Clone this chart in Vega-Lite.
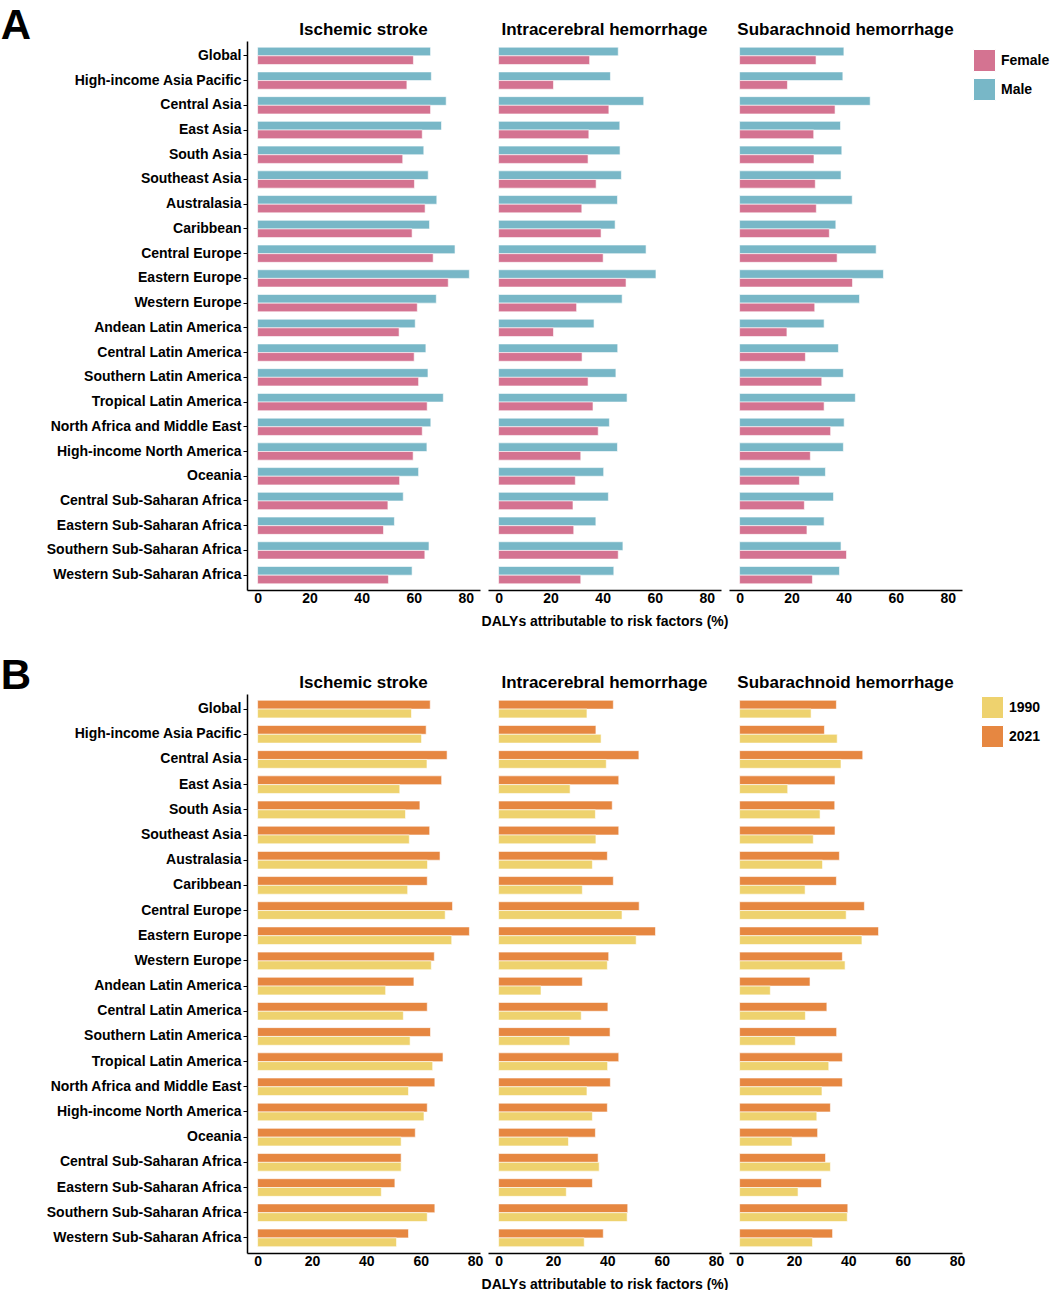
{
"$schema":"https://vega.github.io/schema/vega-lite/v6.json",
"background":"white",
"padding":{"left":0,"top":5,"right":0,"bottom":0},
"config":{"font":"Liberation Sans","view":{"stroke":null},
 "axis":{"grid":false,"labelFont":"Liberation Sans","labelFontSize":14,"labelFontWeight":"bold","labelColor":"black","titleFont":"Liberation Sans","titleFontSize":14,"titleFontWeight":"bold","titleColor":"black","domainColor":"black","domainWidth":1.3,"tickColor":"black"},
 "legend":{"labelFont":"Liberation Sans","labelFontSize":14,"labelFontWeight":"bold","labelColor":"black"}},
"datasets":{
"sex":[
{"region":"Global","cause":"Ischemic stroke","group":"Male","value":66.5},{"region":"Global","cause":"Ischemic stroke","group":"Female","value":59.9},
{"region":"High-income Asia Pacific","cause":"Ischemic stroke","group":"Male","value":66.8},{"region":"High-income Asia Pacific","cause":"Ischemic stroke","group":"Female","value":57.4},
{"region":"Central Asia","cause":"Ischemic stroke","group":"Male","value":72.5},{"region":"Central Asia","cause":"Ischemic stroke","group":"Female","value":66.5},
{"region":"East Asia","cause":"Ischemic stroke","group":"Male","value":70.7},{"region":"East Asia","cause":"Ischemic stroke","group":"Female","value":63.3},
{"region":"South Asia","cause":"Ischemic stroke","group":"Male","value":63.9},{"region":"South Asia","cause":"Ischemic stroke","group":"Female","value":55.8},
{"region":"Southeast Asia","cause":"Ischemic stroke","group":"Male","value":65.6},{"region":"Southeast Asia","cause":"Ischemic stroke","group":"Female","value":60.3},
{"region":"Australasia","cause":"Ischemic stroke","group":"Male","value":68.9},{"region":"Australasia","cause":"Ischemic stroke","group":"Female","value":64.4},
{"region":"Caribbean","cause":"Ischemic stroke","group":"Male","value":66.1},{"region":"Caribbean","cause":"Ischemic stroke","group":"Female","value":59.4},
{"region":"Central Europe","cause":"Ischemic stroke","group":"Male","value":75.9},{"region":"Central Europe","cause":"Ischemic stroke","group":"Female","value":67.5},
{"region":"Eastern Europe","cause":"Ischemic stroke","group":"Male","value":81.4},{"region":"Eastern Europe","cause":"Ischemic stroke","group":"Female","value":73.3},
{"region":"Western Europe","cause":"Ischemic stroke","group":"Male","value":68.7},{"region":"Western Europe","cause":"Ischemic stroke","group":"Female","value":61.4},
{"region":"Andean Latin America","cause":"Ischemic stroke","group":"Male","value":60.6},{"region":"Andean Latin America","cause":"Ischemic stroke","group":"Female","value":54.4},
{"region":"Central Latin America","cause":"Ischemic stroke","group":"Male","value":64.7},{"region":"Central Latin America","cause":"Ischemic stroke","group":"Female","value":60.2},
{"region":"Southern Latin America","cause":"Ischemic stroke","group":"Male","value":65.5},{"region":"Southern Latin America","cause":"Ischemic stroke","group":"Female","value":61.9},
{"region":"Tropical Latin America","cause":"Ischemic stroke","group":"Male","value":71.4},{"region":"Tropical Latin America","cause":"Ischemic stroke","group":"Female","value":65.2},
{"region":"North Africa and Middle East","cause":"Ischemic stroke","group":"Male","value":66.6},{"region":"North Africa and Middle East","cause":"Ischemic stroke","group":"Female","value":63.3},
{"region":"High-income North America","cause":"Ischemic stroke","group":"Male","value":65.1},{"region":"High-income North America","cause":"Ischemic stroke","group":"Female","value":59.8},
{"region":"Oceania","cause":"Ischemic stroke","group":"Male","value":61.9},{"region":"Oceania","cause":"Ischemic stroke","group":"Female","value":54.6},
{"region":"Central Sub-Saharan Africa","cause":"Ischemic stroke","group":"Male","value":56.0},{"region":"Central Sub-Saharan Africa","cause":"Ischemic stroke","group":"Female","value":50.1},
{"region":"Eastern Sub-Saharan Africa","cause":"Ischemic stroke","group":"Male","value":52.6},{"region":"Eastern Sub-Saharan Africa","cause":"Ischemic stroke","group":"Female","value":48.4},
{"region":"Southern Sub-Saharan Africa","cause":"Ischemic stroke","group":"Male","value":65.9},{"region":"Southern Sub-Saharan Africa","cause":"Ischemic stroke","group":"Female","value":64.3},
{"region":"Western Sub-Saharan Africa","cause":"Ischemic stroke","group":"Male","value":59.4},{"region":"Western Sub-Saharan Africa","cause":"Ischemic stroke","group":"Female","value":50.3},
{"region":"Global","cause":"Intracerebral hemorrhage","group":"Male","value":46.0},{"region":"Global","cause":"Intracerebral hemorrhage","group":"Female","value":35.0},
{"region":"High-income Asia Pacific","cause":"Intracerebral hemorrhage","group":"Male","value":43.0},{"region":"High-income Asia Pacific","cause":"Intracerebral hemorrhage","group":"Female","value":21.1},
{"region":"Central Asia","cause":"Intracerebral hemorrhage","group":"Male","value":55.8},{"region":"Central Asia","cause":"Intracerebral hemorrhage","group":"Female","value":42.4},
{"region":"East Asia","cause":"Intracerebral hemorrhage","group":"Male","value":46.6},{"region":"East Asia","cause":"Intracerebral hemorrhage","group":"Female","value":34.7},
{"region":"South Asia","cause":"Intracerebral hemorrhage","group":"Male","value":46.7},{"region":"South Asia","cause":"Intracerebral hemorrhage","group":"Female","value":34.4},
{"region":"Southeast Asia","cause":"Intracerebral hemorrhage","group":"Male","value":47.2},{"region":"Southeast Asia","cause":"Intracerebral hemorrhage","group":"Female","value":37.5},
{"region":"Australasia","cause":"Intracerebral hemorrhage","group":"Male","value":45.7},{"region":"Australasia","cause":"Intracerebral hemorrhage","group":"Female","value":32.0},
{"region":"Caribbean","cause":"Intracerebral hemorrhage","group":"Male","value":44.8},{"region":"Caribbean","cause":"Intracerebral hemorrhage","group":"Female","value":39.4},
{"region":"Central Europe","cause":"Intracerebral hemorrhage","group":"Male","value":56.7},{"region":"Central Europe","cause":"Intracerebral hemorrhage","group":"Female","value":40.2},
{"region":"Eastern Europe","cause":"Intracerebral hemorrhage","group":"Male","value":60.5},{"region":"Eastern Europe","cause":"Intracerebral hemorrhage","group":"Female","value":49.0},
{"region":"Western Europe","cause":"Intracerebral hemorrhage","group":"Male","value":47.5},{"region":"Western Europe","cause":"Intracerebral hemorrhage","group":"Female","value":30.0},
{"region":"Andean Latin America","cause":"Intracerebral hemorrhage","group":"Male","value":36.7},{"region":"Andean Latin America","cause":"Intracerebral hemorrhage","group":"Female","value":21.1},
{"region":"Central Latin America","cause":"Intracerebral hemorrhage","group":"Male","value":45.8},{"region":"Central Latin America","cause":"Intracerebral hemorrhage","group":"Female","value":32.1},
{"region":"Southern Latin America","cause":"Intracerebral hemorrhage","group":"Male","value":45.1},{"region":"Southern Latin America","cause":"Intracerebral hemorrhage","group":"Female","value":34.4},
{"region":"Tropical Latin America","cause":"Intracerebral hemorrhage","group":"Male","value":49.4},{"region":"Tropical Latin America","cause":"Intracerebral hemorrhage","group":"Female","value":36.3},
{"region":"North Africa and Middle East","cause":"Intracerebral hemorrhage","group":"Male","value":42.6},{"region":"North Africa and Middle East","cause":"Intracerebral hemorrhage","group":"Female","value":38.3},
{"region":"High-income North America","cause":"Intracerebral hemorrhage","group":"Male","value":45.7},{"region":"High-income North America","cause":"Intracerebral hemorrhage","group":"Female","value":31.6},
{"region":"Oceania","cause":"Intracerebral hemorrhage","group":"Male","value":40.4},{"region":"Oceania","cause":"Intracerebral hemorrhage","group":"Female","value":29.5},
{"region":"Central Sub-Saharan Africa","cause":"Intracerebral hemorrhage","group":"Male","value":42.2},{"region":"Central Sub-Saharan Africa","cause":"Intracerebral hemorrhage","group":"Female","value":28.6},
{"region":"Eastern Sub-Saharan Africa","cause":"Intracerebral hemorrhage","group":"Male","value":37.4},{"region":"Eastern Sub-Saharan Africa","cause":"Intracerebral hemorrhage","group":"Female","value":28.9},
{"region":"Southern Sub-Saharan Africa","cause":"Intracerebral hemorrhage","group":"Male","value":47.8},{"region":"Southern Sub-Saharan Africa","cause":"Intracerebral hemorrhage","group":"Female","value":46.0},
{"region":"Western Sub-Saharan Africa","cause":"Intracerebral hemorrhage","group":"Male","value":44.3},{"region":"Western Sub-Saharan Africa","cause":"Intracerebral hemorrhage","group":"Female","value":31.6},
{"region":"Global","cause":"Subarachnoid hemorrhage","group":"Male","value":40.1},{"region":"Global","cause":"Subarachnoid hemorrhage","group":"Female","value":29.4},
{"region":"High-income Asia Pacific","cause":"Subarachnoid hemorrhage","group":"Male","value":39.7},{"region":"High-income Asia Pacific","cause":"Subarachnoid hemorrhage","group":"Female","value":18.4},
{"region":"Central Asia","cause":"Subarachnoid hemorrhage","group":"Male","value":50.2},{"region":"Central Asia","cause":"Subarachnoid hemorrhage","group":"Female","value":36.7},
{"region":"East Asia","cause":"Subarachnoid hemorrhage","group":"Male","value":38.8},{"region":"East Asia","cause":"Subarachnoid hemorrhage","group":"Female","value":28.5},
{"region":"South Asia","cause":"Subarachnoid hemorrhage","group":"Male","value":39.3},{"region":"South Asia","cause":"Subarachnoid hemorrhage","group":"Female","value":28.6},
{"region":"Southeast Asia","cause":"Subarachnoid hemorrhage","group":"Male","value":39.0},{"region":"Southeast Asia","cause":"Subarachnoid hemorrhage","group":"Female","value":29.1},
{"region":"Australasia","cause":"Subarachnoid hemorrhage","group":"Male","value":43.3},{"region":"Australasia","cause":"Subarachnoid hemorrhage","group":"Female","value":29.5},
{"region":"Caribbean","cause":"Subarachnoid hemorrhage","group":"Male","value":37.0},{"region":"Caribbean","cause":"Subarachnoid hemorrhage","group":"Female","value":34.5},
{"region":"Central Europe","cause":"Subarachnoid hemorrhage","group":"Male","value":52.5},{"region":"Central Europe","cause":"Subarachnoid hemorrhage","group":"Female","value":37.5},
{"region":"Eastern Europe","cause":"Subarachnoid hemorrhage","group":"Male","value":55.3},{"region":"Eastern Europe","cause":"Subarachnoid hemorrhage","group":"Female","value":43.4},
{"region":"Western Europe","cause":"Subarachnoid hemorrhage","group":"Male","value":46.1},{"region":"Western Europe","cause":"Subarachnoid hemorrhage","group":"Female","value":28.9},
{"region":"Andean Latin America","cause":"Subarachnoid hemorrhage","group":"Male","value":32.5},{"region":"Andean Latin America","cause":"Subarachnoid hemorrhage","group":"Female","value":18.2},
{"region":"Central Latin America","cause":"Subarachnoid hemorrhage","group":"Male","value":38.0},{"region":"Central Latin America","cause":"Subarachnoid hemorrhage","group":"Female","value":25.3},
{"region":"Southern Latin America","cause":"Subarachnoid hemorrhage","group":"Male","value":39.9},{"region":"Southern Latin America","cause":"Subarachnoid hemorrhage","group":"Female","value":31.6},
{"region":"Tropical Latin America","cause":"Subarachnoid hemorrhage","group":"Male","value":44.5},{"region":"Tropical Latin America","cause":"Subarachnoid hemorrhage","group":"Female","value":32.5},
{"region":"North Africa and Middle East","cause":"Subarachnoid hemorrhage","group":"Male","value":40.2},{"region":"North Africa and Middle East","cause":"Subarachnoid hemorrhage","group":"Female","value":35.0},
{"region":"High-income North America","cause":"Subarachnoid hemorrhage","group":"Male","value":39.9},{"region":"High-income North America","cause":"Subarachnoid hemorrhage","group":"Female","value":27.2},
{"region":"Oceania","cause":"Subarachnoid hemorrhage","group":"Male","value":33.0},{"region":"Oceania","cause":"Subarachnoid hemorrhage","group":"Female","value":23.0},
{"region":"Central Sub-Saharan Africa","cause":"Subarachnoid hemorrhage","group":"Male","value":36.1},{"region":"Central Sub-Saharan Africa","cause":"Subarachnoid hemorrhage","group":"Female","value":24.9},
{"region":"Eastern Sub-Saharan Africa","cause":"Subarachnoid hemorrhage","group":"Male","value":32.5},{"region":"Eastern Sub-Saharan Africa","cause":"Subarachnoid hemorrhage","group":"Female","value":25.9},
{"region":"Southern Sub-Saharan Africa","cause":"Subarachnoid hemorrhage","group":"Male","value":39.0},{"region":"Southern Sub-Saharan Africa","cause":"Subarachnoid hemorrhage","group":"Female","value":41.1},
{"region":"Western Sub-Saharan Africa","cause":"Subarachnoid hemorrhage","group":"Male","value":38.4},{"region":"Western Sub-Saharan Africa","cause":"Subarachnoid hemorrhage","group":"Female","value":28.0}
],
"year":[
{"region":"Global","cause":"Ischemic stroke","group":"2021","value":63.5},{"region":"Global","cause":"Ischemic stroke","group":"1990","value":56.6},
{"region":"High-income Asia Pacific","cause":"Ischemic stroke","group":"2021","value":62.0},{"region":"High-income Asia Pacific","cause":"Ischemic stroke","group":"1990","value":60.3},
{"region":"Central Asia","cause":"Ischemic stroke","group":"2021","value":69.7},{"region":"Central Asia","cause":"Ischemic stroke","group":"1990","value":62.3},
{"region":"East Asia","cause":"Ischemic stroke","group":"2021","value":67.7},{"region":"East Asia","cause":"Ischemic stroke","group":"1990","value":52.3},
{"region":"South Asia","cause":"Ischemic stroke","group":"2021","value":59.7},{"region":"South Asia","cause":"Ischemic stroke","group":"1990","value":54.4},
{"region":"Southeast Asia","cause":"Ischemic stroke","group":"2021","value":63.3},{"region":"Southeast Asia","cause":"Ischemic stroke","group":"1990","value":55.8},
{"region":"Australasia","cause":"Ischemic stroke","group":"2021","value":67.1},{"region":"Australasia","cause":"Ischemic stroke","group":"1990","value":62.5},
{"region":"Caribbean","cause":"Ischemic stroke","group":"2021","value":62.4},{"region":"Caribbean","cause":"Ischemic stroke","group":"1990","value":55.2},
{"region":"Central Europe","cause":"Ischemic stroke","group":"2021","value":71.7},{"region":"Central Europe","cause":"Ischemic stroke","group":"1990","value":69.0},
{"region":"Eastern Europe","cause":"Ischemic stroke","group":"2021","value":77.9},{"region":"Eastern Europe","cause":"Ischemic stroke","group":"1990","value":71.4},
{"region":"Western Europe","cause":"Ischemic stroke","group":"2021","value":65.0},{"region":"Western Europe","cause":"Ischemic stroke","group":"1990","value":63.9},
{"region":"Andean Latin America","cause":"Ischemic stroke","group":"2021","value":57.5},{"region":"Andean Latin America","cause":"Ischemic stroke","group":"1990","value":47.1},
{"region":"Central Latin America","cause":"Ischemic stroke","group":"2021","value":62.4},{"region":"Central Latin America","cause":"Ischemic stroke","group":"1990","value":53.6},
{"region":"Southern Latin America","cause":"Ischemic stroke","group":"2021","value":63.6},{"region":"Southern Latin America","cause":"Ischemic stroke","group":"1990","value":56.1},
{"region":"Tropical Latin America","cause":"Ischemic stroke","group":"2021","value":68.2},{"region":"Tropical Latin America","cause":"Ischemic stroke","group":"1990","value":64.4},
{"region":"North Africa and Middle East","cause":"Ischemic stroke","group":"2021","value":65.2},{"region":"North Africa and Middle East","cause":"Ischemic stroke","group":"1990","value":55.5},
{"region":"High-income North America","cause":"Ischemic stroke","group":"2021","value":62.4},{"region":"High-income North America","cause":"Ischemic stroke","group":"1990","value":61.2},
{"region":"Oceania","cause":"Ischemic stroke","group":"2021","value":58.0},{"region":"Oceania","cause":"Ischemic stroke","group":"1990","value":52.8},
{"region":"Central Sub-Saharan Africa","cause":"Ischemic stroke","group":"2021","value":52.8},{"region":"Central Sub-Saharan Africa","cause":"Ischemic stroke","group":"1990","value":52.8},
{"region":"Eastern Sub-Saharan Africa","cause":"Ischemic stroke","group":"2021","value":50.5},{"region":"Eastern Sub-Saharan Africa","cause":"Ischemic stroke","group":"1990","value":45.5},
{"region":"Southern Sub-Saharan Africa","cause":"Ischemic stroke","group":"2021","value":65.2},{"region":"Southern Sub-Saharan Africa","cause":"Ischemic stroke","group":"1990","value":62.4},
{"region":"Western Sub-Saharan Africa","cause":"Ischemic stroke","group":"2021","value":55.5},{"region":"Western Sub-Saharan Africa","cause":"Ischemic stroke","group":"1990","value":51.1},
{"region":"Global","cause":"Intracerebral hemorrhage","group":"2021","value":42.2},{"region":"Global","cause":"Intracerebral hemorrhage","group":"1990","value":32.5},
{"region":"High-income Asia Pacific","cause":"Intracerebral hemorrhage","group":"2021","value":35.8},{"region":"High-income Asia Pacific","cause":"Intracerebral hemorrhage","group":"1990","value":37.7},
{"region":"Central Asia","cause":"Intracerebral hemorrhage","group":"2021","value":51.6},{"region":"Central Asia","cause":"Intracerebral hemorrhage","group":"1990","value":39.6},
{"region":"East Asia","cause":"Intracerebral hemorrhage","group":"2021","value":44.2},{"region":"East Asia","cause":"Intracerebral hemorrhage","group":"1990","value":26.3},
{"region":"South Asia","cause":"Intracerebral hemorrhage","group":"2021","value":41.8},{"region":"South Asia","cause":"Intracerebral hemorrhage","group":"1990","value":35.6},
{"region":"Southeast Asia","cause":"Intracerebral hemorrhage","group":"2021","value":44.2},{"region":"Southeast Asia","cause":"Intracerebral hemorrhage","group":"1990","value":35.8},
{"region":"Australasia","cause":"Intracerebral hemorrhage","group":"2021","value":40.0},{"region":"Australasia","cause":"Intracerebral hemorrhage","group":"1990","value":34.5},
{"region":"Caribbean","cause":"Intracerebral hemorrhage","group":"2021","value":42.2},{"region":"Caribbean","cause":"Intracerebral hemorrhage","group":"1990","value":30.8},
{"region":"Central Europe","cause":"Intracerebral hemorrhage","group":"2021","value":51.7},{"region":"Central Europe","cause":"Intracerebral hemorrhage","group":"1990","value":45.4},
{"region":"Eastern Europe","cause":"Intracerebral hemorrhage","group":"2021","value":57.7},{"region":"Eastern Europe","cause":"Intracerebral hemorrhage","group":"1990","value":50.6},
{"region":"Western Europe","cause":"Intracerebral hemorrhage","group":"2021","value":40.5},{"region":"Western Europe","cause":"Intracerebral hemorrhage","group":"1990","value":40.0},
{"region":"Andean Latin America","cause":"Intracerebral hemorrhage","group":"2021","value":30.8},{"region":"Andean Latin America","cause":"Intracerebral hemorrhage","group":"1990","value":15.6},
{"region":"Central Latin America","cause":"Intracerebral hemorrhage","group":"2021","value":40.2},{"region":"Central Latin America","cause":"Intracerebral hemorrhage","group":"1990","value":30.4},
{"region":"Southern Latin America","cause":"Intracerebral hemorrhage","group":"2021","value":41.0},{"region":"Southern Latin America","cause":"Intracerebral hemorrhage","group":"1990","value":26.2},
{"region":"Tropical Latin America","cause":"Intracerebral hemorrhage","group":"2021","value":44.2},{"region":"Tropical Latin America","cause":"Intracerebral hemorrhage","group":"1990","value":40.1},
{"region":"North Africa and Middle East","cause":"Intracerebral hemorrhage","group":"2021","value":41.1},{"region":"North Africa and Middle East","cause":"Intracerebral hemorrhage","group":"1990","value":32.5},
{"region":"High-income North America","cause":"Intracerebral hemorrhage","group":"2021","value":40.0},{"region":"High-income North America","cause":"Intracerebral hemorrhage","group":"1990","value":34.5},
{"region":"Oceania","cause":"Intracerebral hemorrhage","group":"2021","value":35.6},{"region":"Oceania","cause":"Intracerebral hemorrhage","group":"1990","value":25.7},
{"region":"Central Sub-Saharan Africa","cause":"Intracerebral hemorrhage","group":"2021","value":36.6},{"region":"Central Sub-Saharan Africa","cause":"Intracerebral hemorrhage","group":"1990","value":37.0},
{"region":"Eastern Sub-Saharan Africa","cause":"Intracerebral hemorrhage","group":"2021","value":34.5},{"region":"Eastern Sub-Saharan Africa","cause":"Intracerebral hemorrhage","group":"1990","value":24.9},
{"region":"Southern Sub-Saharan Africa","cause":"Intracerebral hemorrhage","group":"2021","value":47.5},{"region":"Southern Sub-Saharan Africa","cause":"Intracerebral hemorrhage","group":"1990","value":47.3},
{"region":"Western Sub-Saharan Africa","cause":"Intracerebral hemorrhage","group":"2021","value":38.5},{"region":"Western Sub-Saharan Africa","cause":"Intracerebral hemorrhage","group":"1990","value":31.5},
{"region":"Global","cause":"Subarachnoid hemorrhage","group":"2021","value":35.6},{"region":"Global","cause":"Subarachnoid hemorrhage","group":"1990","value":26.3},
{"region":"High-income Asia Pacific","cause":"Subarachnoid hemorrhage","group":"2021","value":31.2},{"region":"High-income Asia Pacific","cause":"Subarachnoid hemorrhage","group":"1990","value":35.9},
{"region":"Central Asia","cause":"Subarachnoid hemorrhage","group":"2021","value":45.3},{"region":"Central Asia","cause":"Subarachnoid hemorrhage","group":"1990","value":37.3},
{"region":"East Asia","cause":"Subarachnoid hemorrhage","group":"2021","value":35.1},{"region":"East Asia","cause":"Subarachnoid hemorrhage","group":"1990","value":17.7},
{"region":"South Asia","cause":"Subarachnoid hemorrhage","group":"2021","value":35.0},{"region":"South Asia","cause":"Subarachnoid hemorrhage","group":"1990","value":29.6},
{"region":"Southeast Asia","cause":"Subarachnoid hemorrhage","group":"2021","value":35.1},{"region":"Southeast Asia","cause":"Subarachnoid hemorrhage","group":"1990","value":27.1},
{"region":"Australasia","cause":"Subarachnoid hemorrhage","group":"2021","value":36.7},{"region":"Australasia","cause":"Subarachnoid hemorrhage","group":"1990","value":30.5},
{"region":"Caribbean","cause":"Subarachnoid hemorrhage","group":"2021","value":35.6},{"region":"Caribbean","cause":"Subarachnoid hemorrhage","group":"1990","value":24.1},
{"region":"Central Europe","cause":"Subarachnoid hemorrhage","group":"2021","value":45.9},{"region":"Central Europe","cause":"Subarachnoid hemorrhage","group":"1990","value":39.2},
{"region":"Eastern Europe","cause":"Subarachnoid hemorrhage","group":"2021","value":51.1},{"region":"Eastern Europe","cause":"Subarachnoid hemorrhage","group":"1990","value":45.0},
{"region":"Western Europe","cause":"Subarachnoid hemorrhage","group":"2021","value":37.8},{"region":"Western Europe","cause":"Subarachnoid hemorrhage","group":"1990","value":38.8},
{"region":"Andean Latin America","cause":"Subarachnoid hemorrhage","group":"2021","value":25.9},{"region":"Andean Latin America","cause":"Subarachnoid hemorrhage","group":"1990","value":11.3},
{"region":"Central Latin America","cause":"Subarachnoid hemorrhage","group":"2021","value":32.1},{"region":"Central Latin America","cause":"Subarachnoid hemorrhage","group":"1990","value":24.2},
{"region":"Southern Latin America","cause":"Subarachnoid hemorrhage","group":"2021","value":35.7},{"region":"Southern Latin America","cause":"Subarachnoid hemorrhage","group":"1990","value":20.5},
{"region":"Tropical Latin America","cause":"Subarachnoid hemorrhage","group":"2021","value":37.8},{"region":"Tropical Latin America","cause":"Subarachnoid hemorrhage","group":"1990","value":32.8},
{"region":"North Africa and Middle East","cause":"Subarachnoid hemorrhage","group":"2021","value":37.8},{"region":"North Africa and Middle East","cause":"Subarachnoid hemorrhage","group":"1990","value":30.3},
{"region":"High-income North America","cause":"Subarachnoid hemorrhage","group":"2021","value":33.4},{"region":"High-income North America","cause":"Subarachnoid hemorrhage","group":"1990","value":28.4},
{"region":"Oceania","cause":"Subarachnoid hemorrhage","group":"2021","value":28.7},{"region":"Oceania","cause":"Subarachnoid hemorrhage","group":"1990","value":19.3},
{"region":"Central Sub-Saharan Africa","cause":"Subarachnoid hemorrhage","group":"2021","value":31.6},{"region":"Central Sub-Saharan Africa","cause":"Subarachnoid hemorrhage","group":"1990","value":33.4},
{"region":"Eastern Sub-Saharan Africa","cause":"Subarachnoid hemorrhage","group":"2021","value":30.1},{"region":"Eastern Sub-Saharan Africa","cause":"Subarachnoid hemorrhage","group":"1990","value":21.5},
{"region":"Southern Sub-Saharan Africa","cause":"Subarachnoid hemorrhage","group":"2021","value":39.8},{"region":"Southern Sub-Saharan Africa","cause":"Subarachnoid hemorrhage","group":"1990","value":39.6},
{"region":"Western Sub-Saharan Africa","cause":"Subarachnoid hemorrhage","group":"2021","value":34.2},{"region":"Western Sub-Saharan Africa","cause":"Subarachnoid hemorrhage","group":"1990","value":26.8}
]},
"vconcat":[
{
 "title":{"text":"A","anchor":"start","frame":"bounds","fontSize":42,"fontWeight":"bold","color":"black","dx":-45,"offset":-27},
 "data":{"name":"sex"},
 "spacing":8,
 "facet":{"column":{"field":"cause","type":"nominal","sort":["Ischemic stroke","Intracerebral hemorrhage","Subarachnoid hemorrhage"],"title":"DALYs attributable to risk factors (%)",
   "header":{"labelFontSize":17,"labelFontWeight":"bold","labelColor":"black","labelPadding":2,"labelFont":"Liberation Sans","labelOrient":"top","titleOrient":"bottom","titleFont":"Liberation Sans","titleFontSize":14,"titleFontWeight":"bold","titleColor":"black","titlePadding":0}}},
 "spec":{
  "width":233,"height":549,
  "mark":{"type":"bar","stroke":"white","strokeWidth":0.6},
  "encoding":{
   "y":{"field":"region","type":"nominal","sort":["Global","High-income Asia Pacific","Central Asia","East Asia","South Asia","Southeast Asia","Australasia","Caribbean","Central Europe","Eastern Europe","Western Europe","Andean Latin America","Central Latin America","Southern Latin America","Tropical Latin America","North Africa and Middle East","High-income North America","Oceania","Central Sub-Saharan Africa","Eastern Sub-Saharan Africa","Southern Sub-Saharan Africa","Western Sub-Saharan Africa"],
     "scale":{"paddingInner":0.3,"paddingOuter":0.25},
     "axis":{"title":null,"tickSize":4,"labelPadding":2,"labelLimit":0,"domainWidth":1.5}},
   "yOffset":{"field":"group","type":"nominal","sort":["Male","Female"],"scale":{"paddingInner":0,"paddingOuter":0}},
   "x":{"field":"value","type":"quantitative","scale":{"domain":[-4.07,85.5],"nice":false,"zero":false},
     "axis":{"values":[0,20,40,60,80],"ticks":false,"tickSize":0,"labelPadding":1,"title":null}},
   "x2":{"datum":0},
   "color":{"field":"group","type":"nominal","scale":{"domain":["Female","Male"],"range":["#D47391","#78B7C7"]},
     "legend":{"title":" ","titleFontSize":6,"titlePadding":2,"symbolType":"square","symbolSize":484,"symbolStrokeColor":"white","symbolStrokeWidth":1,"symbolOpacity":1,"rowPadding":2,"labelOffset":5,"offset":11,"padding":0}}
  }
 }
},
{
 "title":{"text":"B","anchor":"start","frame":"bounds","fontSize":42,"fontWeight":"bold","color":"black","dx":-45,"offset":-24},
 "data":{"name":"year"},
 "spacing":8,
 "facet":{"column":{"field":"cause","type":"nominal","sort":["Ischemic stroke","Intracerebral hemorrhage","Subarachnoid hemorrhage"],"title":"DALYs attributable to risk factors (%)",
   "header":{"labelFontSize":17,"labelFontWeight":"bold","labelColor":"black","labelPadding":2,"labelFont":"Liberation Sans","labelOrient":"top","titleOrient":"bottom","titleFont":"Liberation Sans","titleFontSize":14,"titleFontWeight":"bold","titleColor":"black","titlePadding":0}}},
 "spec":{
  "width":233,"height":559,
  "mark":{"type":"bar","stroke":"white","strokeWidth":0.6},
  "encoding":{
   "y":{"field":"region","type":"nominal","sort":["Global","High-income Asia Pacific","Central Asia","East Asia","South Asia","Southeast Asia","Australasia","Caribbean","Central Europe","Eastern Europe","Western Europe","Andean Latin America","Central Latin America","Southern Latin America","Tropical Latin America","North Africa and Middle East","High-income North America","Oceania","Central Sub-Saharan Africa","Eastern Sub-Saharan Africa","Southern Sub-Saharan Africa","Western Sub-Saharan Africa"],
     "scale":{"paddingInner":0.3,"paddingOuter":0.25},
     "axis":{"title":null,"tickSize":4,"labelPadding":2,"labelLimit":0,"domainWidth":1.5}},
   "yOffset":{"field":"group","type":"nominal","sort":["2021","1990"],"scale":{"paddingInner":0,"paddingOuter":0}},
   "x":{"field":"value","type":"quantitative","scale":{"domain":[-3.9,81.8],"nice":false,"zero":false},
     "axis":{"values":[0,20,40,60,80],"ticks":false,"tickSize":0,"labelPadding":1,"title":null}},
   "x2":{"datum":0},
   "color":{"field":"group","type":"nominal","scale":{"domain":["1990","2021"],"range":["#EED26E","#E68741"]},
     "legend":{"title":null,"symbolType":"square","symbolSize":484,"symbolStrokeColor":"white","symbolStrokeWidth":1,"symbolOpacity":1,"rowPadding":2,"labelOffset":5,"offset":14,"padding":2}}
  }
 }
}
],
"spacing":26,
"resolve":{"scale":{"color":"independent","x":"independent","y":"independent","yOffset":"independent"},"legend":{"color":"independent"}}
}
